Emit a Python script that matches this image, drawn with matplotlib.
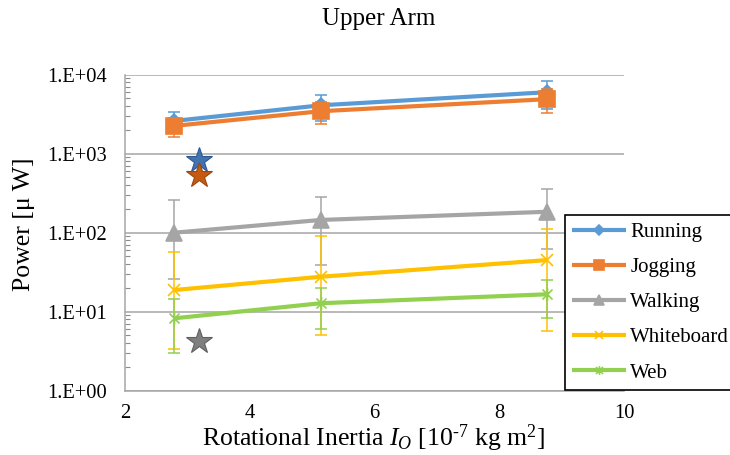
import numpy as np
import matplotlib
matplotlib.use('Agg')
import matplotlib.pyplot as plt
from matplotlib.path import Path
from matplotlib.ticker import FixedLocator, FuncFormatter, LogLocator, NullFormatter

# ---------------- data ----------------
inertia = [2.79, 5.14, 8.76]
series_names = ['Running', 'Jogging', 'Walking', 'Whiteboard', 'Web']

running = [2600, 4100, 6000]
running_err_plus = [770, 1480, 2320]
running_err_minus = [770, 1480, 2320]

jogging = [2250, 3450, 4900]
jogging_err_plus = [610, 1095, 1655]
jogging_err_minus = [610, 1095, 1655]

walking = [100, 145, 184]
walking_err_plus = [162, 141, 173]
walking_err_minus = [74, 106, 122]

whiteboard = [18.8, 27.7, 45]
whiteboard_err_plus = [38, 64, 66]
whiteboard_err_minus = [15.4, 22.6, 39.3]

web = [8.25, 12.8, 16.6]
web_err_plus = [6.2, 7.2, 8.4]
web_err_minus = [5.25, 6.8, 8.2]

star_x = [3.18, 3.18, 3.18]
star_y = [830, 540, 4.3]

x_ticks = [2, 4, 6, 8, 10]
y_ticks = [1, 10, 100, 1000, 10000]

# ---------------- style ----------------
plt.rcParams['font.family'] = ['Liberation Serif', 'DejaVu Serif']
plt.rcParams['mathtext.fontset'] = 'custom'
plt.rcParams['mathtext.rm'] = 'Liberation Serif'
plt.rcParams['mathtext.it'] = 'Liberation Serif:italic'

colors = ['#5b9bd5', '#ed7d31', '#a5a5a5', '#ffc000', '#92d050']
star_face = ['#3f74b0', '#c55a11', '#7f7f7f']
star_edge = ['#2f5597', '#9c4510', '#606060']

ast = Path([(-1, -1), (1, 1), (-1, 1), (1, -1), (0, -1.25), (0, 1.25)],
           [Path.MOVETO, Path.LINETO, Path.MOVETO, Path.LINETO, Path.MOVETO, Path.LINETO])
markers = ['D', 's', '^', 'x', ast]
msizes = [7, 11, 11, 9, 9]

values = [running, jogging, walking, whiteboard, web]
errs_minus = [running_err_minus, jogging_err_minus, walking_err_minus,
              whiteboard_err_minus, web_err_minus]
errs_plus = [running_err_plus, jogging_err_plus, walking_err_plus,
             whiteboard_err_plus, web_err_plus]

fig = plt.figure(figsize=(7.3, 4.55), dpi=100)
L, R, T, B = 125, 624, 74.7, 390.7
ax = fig.add_axes([L / 730, 1 - B / 455, (R - L) / 730, (B - T) / 455])

handles = []
for i, name in enumerate(series_names):
    ax.errorbar(inertia, values[i], yerr=[errs_minus[i], errs_plus[i]], fmt='none',
                ecolor=colors[i], elinewidth=1.1, capsize=4.2, capthick=1.1,
                zorder=3 + i * 0.1)
    h, = ax.plot(inertia, values[i], color=colors[i], lw=3.0, marker=markers[i],
                 ms=msizes[i], mfc=colors[i], mec=colors[i], mew=1.2,
                 zorder=3.05 + i * 0.1, label=name, solid_capstyle='butt')
    handles.append(h)

for sx, sy, fc, ec in zip(star_x, star_y, star_face, star_edge):
    ax.plot([sx], [sy], marker='*', ms=19, mfc=fc, mec=ec, mew=0.8,
            ls='none', zorder=5)

ax.set_yscale('log')
ax.set_xlim(2, 10)
ax.set_ylim(1, 10000)
ax.xaxis.set_major_locator(FixedLocator(x_ticks))
ax.yaxis.set_major_locator(FixedLocator(y_ticks))
ax.yaxis.set_major_formatter(FuncFormatter(lambda v, p: '1.E+%02d' % int(round(np.log10(v)))))
ax.yaxis.set_minor_locator(LogLocator(base=10, subs=np.arange(2, 10)))
ax.yaxis.set_minor_formatter(NullFormatter())

ax.tick_params(axis='x', which='both', length=0, pad=9.5, labelsize=14.8)
ax.tick_params(axis='y', which='major', length=0, pad=13, labelsize=14.8)
ax.tick_params(axis='y', which='minor', direction='in', length=3.8, width=0.8,
               color='#8c8c8c')

ax.grid(axis='y', which='major', color='#a6a6a6', lw=1.1)
ax.set_axisbelow(True)
for s in ['top', 'right']:
    ax.spines[s].set_visible(False)
for s in ['left', 'bottom']:
    ax.spines[s].set_color('#a6a6a6')
    ax.spines[s].set_linewidth(1.1)

fig.text(379 / 730, 1 - 19 / 455, 'Upper Arm', ha='center', va='center', fontsize=18)
fig.text(24 / 730, 1 - 224 / 455, 'Power [\u03bc W]', ha='center', va='center',
         rotation=90, fontsize=18.5)
fig.text(374 / 730, 1 - 446 / 455,
         r'Rotational Inertia $I_O$ [10$^{\text{-7}}$ kg m$^{\text{2}}$]',
         ha='center', va='baseline', fontsize=18.5)

leg = fig.legend(handles=handles, loc='upper left',
                 bbox_to_anchor=(564.7 / 730, 1 - 215 / 455),
                 fontsize=15, frameon=True, fancybox=False, borderpad=0.35,
                 handlelength=2.6, handletextpad=0.2, labelspacing=0.75,
                 markerscale=0.7, borderaxespad=0)
leg.get_frame().set_edgecolor('black')
leg.get_frame().set_linewidth(1.2)
leg.get_frame().set_facecolor('white')
leg.get_frame().set_alpha(1)

fig.savefig('out.png', dpi=100)
